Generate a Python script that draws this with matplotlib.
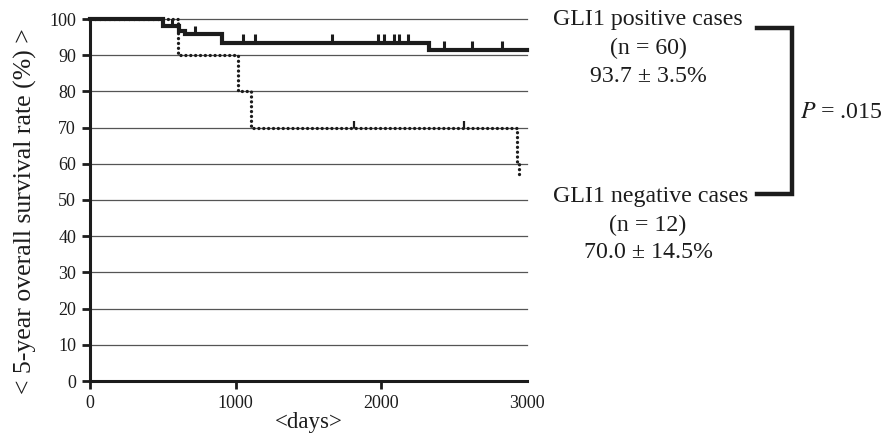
import numpy as np
import matplotlib
matplotlib.use("Agg")
import matplotlib.pyplot as plt
from matplotlib.lines import Line2D

plt.rcParams['font.family'] = ['Liberation Serif', 'DejaVu Serif']

# Kaplan-Meier curves (days, survival %)
pos_times = [0, 498, 612, 650, 905, 2330, 3000]
pos_surv = [100, 98.0, 96.6, 95.8, 93.5, 91.5, 91.5]
pos_censor = [560, 720, 1050, 1135, 1660, 1980, 2015, 2090, 2120, 2185, 2430, 2625, 2830]

neg_times = [0, 605, 1015, 1105, 2930, 2945]
neg_surv = [100, 90, 80, 70, 60, 56]
neg_censor = [1815, 2570]

yticks = list(range(0, 101, 10))
xticks = [0, 1000, 2000, 3000]

W, H = 884, 434
fig = plt.figure(figsize=(W / 100, H / 100), dpi=100)


def fx(px):
    return px / W


def fy(py):
    return 1 - py / H


ax = fig.add_axes([fx(90), fy(381), fx(527) - fx(90), fy(19) - fy(381)])
ink = '#1c1c1c'


def level_at(times, surv, t):
    i = np.searchsorted(times, t, side='right') - 1
    return surv[i]


# grid
for v in yticks[1:]:
    ax.axhline(v, color='#555555', lw=0.9, zorder=1, clip_on=False)

ax.step(pos_times, pos_surv, where='post', color=ink, lw=3.0,
        zorder=3, clip_on=False, solid_joinstyle='miter')
ax.step(neg_times, neg_surv, where='post', color=ink, lw=2.4,
        linestyle=(0, (0.01, 1.45)), dash_capstyle='round', zorder=4, clip_on=False)

for t in pos_censor:
    lv = level_at(pos_times, pos_surv, t)
    ax.vlines(t, lv, lv + 2.3, color=ink, lw=2.2, zorder=3)
for t in neg_censor:
    lv = level_at(neg_times, neg_surv, t)
    ax.vlines(t, lv, lv + 1.8, color=ink, lw=1.6, zorder=4)

ax.set_xlim(0, 3000)
ax.set_ylim(0, 100)
ax.set_xticks(xticks)
ax.set_yticks(yticks)
ax.xaxis.get_major_ticks()[-1].tick1line.set_visible(False)
ax.tick_params(axis='both', direction='out', length=6, width=2, color=ink,
               labelsize=13, labelcolor=ink, pad=4)
for s in ['top', 'right']:
    ax.spines[s].set_visible(False)
for s in ['left', 'bottom']:
    ax.spines[s].set_linewidth(2.2)
    ax.spines[s].set_color(ink)

ax.set_xlabel('<days>', fontsize=16.5, color=ink, labelpad=0)
ax.set_ylabel('< 5-year overall survival rate (%) >', fontsize=18.5, color=ink)
ax.yaxis.set_label_coords(-0.122, 0.47)

# annotation block on the right
tk = dict(fontsize=17.2, color=ink)
fig.text(fx(553), fy(20), 'GLI1 positive cases', ha='left', va='center', **tk)
fig.text(fx(648), fy(48), '(n = 60)', ha='center', va='center', **tk)
fig.text(fx(648), fy(76), '93.7 ± 3.5%', ha='center', va='center', **tk)
fig.text(fx(553), fy(196), 'GLI1 negative cases', ha='left', va='center', **tk)
fig.text(fx(648), fy(225), '(n = 12)', ha='center', va='center', **tk)
fig.text(fx(648), fy(252), '70.0 ± 14.5%', ha='center', va='center', **tk)
fig.text(fx(800), fy(113), r'$P$ = .015', ha='left', va='center',
         math_fontfamily='stix', **tk)

bracket = Line2D([fx(757), fx(792), fx(792), fx(757)],
                 [fy(28), fy(28), fy(194), fy(194)],
                 transform=fig.transFigure, color=ink, lw=3.2,
                 solid_joinstyle='miter')
fig.add_artist(bracket)

fig.savefig('out.png', dpi=100)
